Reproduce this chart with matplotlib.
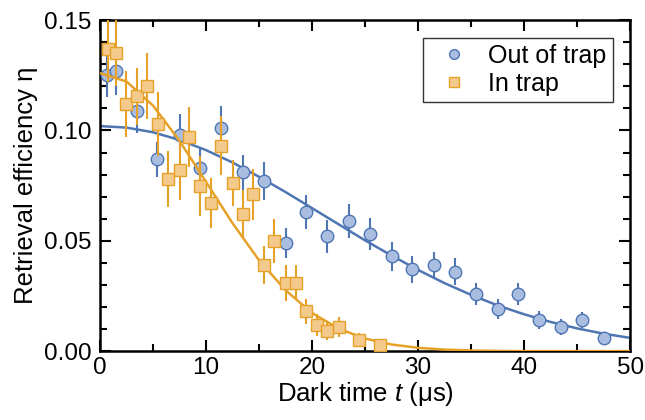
import matplotlib
matplotlib.use("Agg")
import matplotlib.pyplot as plt
from matplotlib.ticker import MultipleLocator, FormatStrFormatter
from matplotlib.lines import Line2D

plt.rcParams['font.family'] = ['Liberation Sans', 'DejaVu Sans']
plt.rcParams['mathtext.fontset'] = 'custom'
plt.rcParams['mathtext.rm'] = 'Liberation Sans'
plt.rcParams['mathtext.it'] = 'Liberation Sans:italic'

# out of trap (blue circles)
out_t = [0.7, 1.5, 3.5, 5.4, 7.5, 9.4, 11.4, 13.5, 15.5, 17.5, 19.4, 21.4, 23.5,
         25.5, 27.5, 29.4, 31.5, 33.5, 35.5, 37.5, 39.4, 41.4, 43.5, 45.5, 47.5]
out_eta = [0.125, 0.127, 0.109, 0.087, 0.098, 0.083, 0.101, 0.081, 0.077, 0.049,
           0.063, 0.052, 0.059, 0.053, 0.043, 0.037, 0.039, 0.036, 0.026, 0.019,
           0.026, 0.014, 0.011, 0.014, 0.006]
out_err = [0.010, 0.011, 0.010, 0.008, 0.0095, 0.009, 0.010, 0.008, 0.0087, 0.0068,
           0.0078, 0.0074, 0.0077, 0.0072, 0.0066, 0.006, 0.0057, 0.006, 0.005, 0.0044,
           0.005, 0.004, 0.0036, 0.0036, 0.0025]

# in trap (orange squares)
in_t = [0.75, 1.5, 2.5, 3.5, 4.4, 5.5, 6.4, 7.5, 8.4, 9.4, 10.5, 11.4, 12.5,
        13.5, 14.4, 15.5, 16.4, 17.5, 18.5, 19.4, 20.5, 21.4, 22.5, 24.4, 26.4]
in_eta = [0.137, 0.135, 0.112, 0.1155, 0.120, 0.103, 0.078, 0.082, 0.097, 0.075,
          0.067, 0.093, 0.076, 0.062, 0.071, 0.039, 0.050, 0.031, 0.031, 0.018,
          0.012, 0.009, 0.011, 0.005, 0.003]
in_err = [0.015, 0.015, 0.0148, 0.013, 0.015, 0.0144, 0.0126, 0.0137, 0.0136, 0.0136,
          0.0113, 0.0134, 0.0104, 0.011, 0.0117, 0.0088, 0.0099, 0.0082, 0.008, 0.0057,
          0.005, 0.004, 0.0045, 0.0033, 0.0025]

# fit curves, every 2.5 us
fit_t = [0, 2.5, 5, 7.5, 10, 12.5, 15, 17.5, 20, 22.5, 25, 27.5, 30, 32.5, 35,
         37.5, 40, 42.5, 45, 47.5, 50]
fit_out = [0.1020, 0.1013, 0.0992, 0.0957, 0.0911, 0.0855, 0.0790, 0.0721, 0.0648,
           0.0575, 0.0502, 0.0433, 0.0368, 0.0308, 0.0255, 0.0207, 0.0167, 0.0132,
           0.0103, 0.0079, 0.0060]
fit_in = [0.1260, 0.1222, 0.1113, 0.0953, 0.0767, 0.0580, 0.0412, 0.0276, 0.0173,
          0.0102, 0.0057, 0.0030, 0.0015, 0.0007, 0.0003, 0.0001, 0.0, 0.0, 0.0,
          0.0, 0.0]

blue_line = '#4f76b3'
blue_face = '#a9bde0'
orange_line = '#e6a228'
orange_face = '#f4c98c'

fig = plt.figure(figsize=(6.45, 4.2), dpi=100)
ax = fig.add_axes([0.155, 0.164, 0.822, 0.788])

ax.plot(fit_t, fit_out, color=blue_line, lw=1.8, zorder=2)
ax.errorbar(out_t, out_eta, yerr=out_err, fmt='o', ms=9, mfc=blue_face,
            mec=blue_line, mew=1.0, ecolor=blue_line, elinewidth=1.5,
            capsize=0, zorder=3)
ax.plot(fit_t, fit_in, color=orange_line, lw=1.8, zorder=4)
ax.errorbar(in_t, in_eta, yerr=in_err, fmt='s', ms=8, mfc=orange_face,
            mec=orange_line, mew=1.0, ecolor=orange_line, elinewidth=1.5,
            capsize=0, zorder=5)

ax.set_xlim(0, 50)
ax.set_ylim(0, 0.15)
ax.xaxis.set_major_locator(MultipleLocator(10))
ax.xaxis.set_minor_locator(MultipleLocator(5))
ax.yaxis.set_major_locator(MultipleLocator(0.05))
ax.yaxis.set_minor_locator(MultipleLocator(0.01))
ax.yaxis.set_major_formatter(FormatStrFormatter('%.2f'))

ax.tick_params(which='both', direction='in', top=True, right=True, width=1.5,
               labelsize=17.5)
ax.tick_params(which='major', length=8)
ax.tick_params(which='minor', length=5)
ax.tick_params(axis='y', pad=6)
ax.tick_params(axis='x', pad=4)
for s in ax.spines.values():
    s.set_linewidth(1.8)

ax.set_xlabel('Dark time $t$ (μs)', fontsize=18.5, labelpad=1)
ax.set_ylabel('Retrieval efficiency η', fontsize=18.5, labelpad=4)

handles = [
    Line2D([], [], ls='none', marker='o', ms=7, mfc=blue_face, mec=blue_line, mew=1.0),
    Line2D([], [], ls='none', marker='s', ms=6.5, mfc=orange_face, mec=orange_line, mew=1.0),
]
leg = ax.legend(handles, ['Out of trap', 'In trap'], loc='upper right', fontsize=18,
                frameon=True, fancybox=False, edgecolor='black', borderaxespad=0.7,
                handletextpad=0.35, borderpad=0.25, labelspacing=0.15)
leg.get_frame().set_linewidth(1.0)

fig.savefig('out.png', dpi=100)
